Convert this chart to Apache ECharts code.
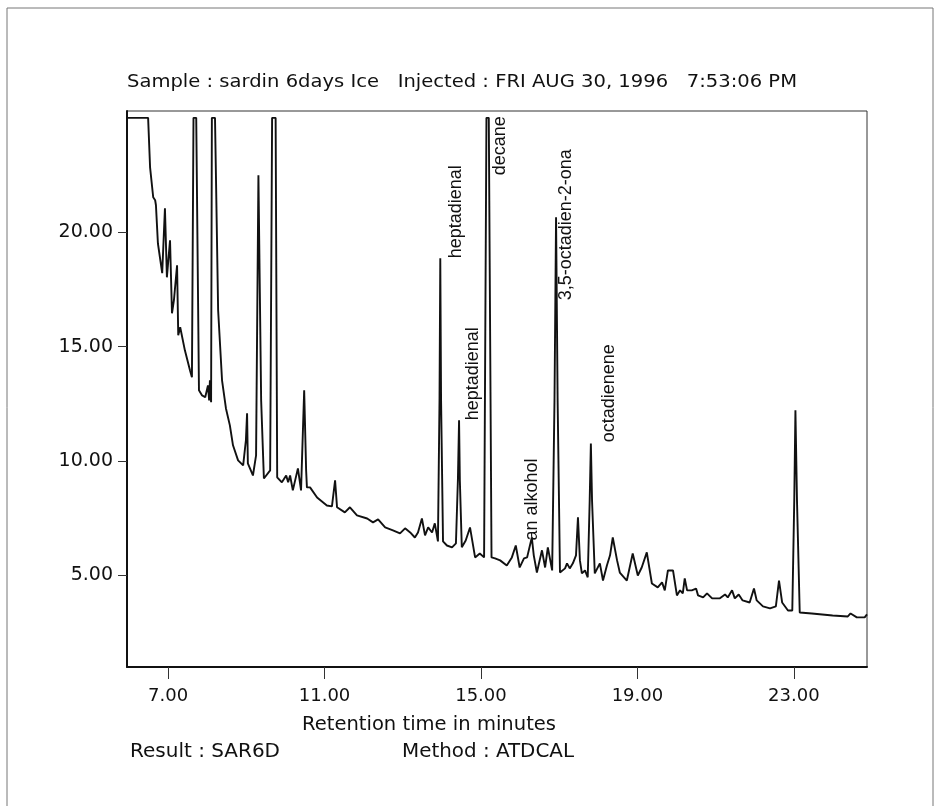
<!DOCTYPE html>
<html>
<head>
<meta charset="utf-8">
<script src="https://cdn.jsdelivr.net/npm/echarts@6/dist/echarts.min.js"></script>
<style>
html,body{margin:0;padding:0;background:#fff;}
#c{width:941px;height:806px;}
</style>
</head>
<body>
<div id="c"></div>
<script>
// Retention time (minutes)
const retentionTimes = [
  5.95, 6.49, 6.54, 6.62, 6.67, 6.69, 6.74, 6.85, 6.92, 6.97,
  7.05, 7.10, 7.15, 7.23, 7.26, 7.31, 7.43, 7.56, 7.61, 7.65,
  7.72, 7.79, 7.87, 7.95, 8.02, 8.05, 8.07, 8.10, 8.12, 8.20,
  8.28, 8.38, 8.48, 8.58, 8.66, 8.79, 8.92, 8.99, 9.02, 9.04,
  9.17, 9.25, 9.31, 9.38, 9.45, 9.61, 9.66, 9.75, 9.79, 9.91,
  10.02, 10.07, 10.12, 10.19, 10.32, 10.40, 10.48, 10.53, 10.55, 10.63,
  10.81, 11.06, 11.19, 11.27, 11.32, 11.52, 11.65, 11.83, 12.09, 12.24,
  12.37, 12.55, 12.75, 12.93, 13.06, 13.19, 13.31, 13.39, 13.49, 13.57,
  13.65, 13.75, 13.82, 13.90, 13.94, 13.96, 13.98, 14.03, 14.13, 14.26,
  14.36, 14.41, 14.44, 14.46, 14.51, 14.61, 14.72, 14.85, 14.97, 15.08,
  15.14, 15.20, 15.27, 15.36, 15.49, 15.66, 15.79, 15.89, 15.99, 16.10,
  16.18, 16.30, 16.35, 16.43, 16.56, 16.64, 16.71, 16.82, 16.88, 16.92,
  16.96, 17.02, 17.15, 17.20, 17.27, 17.35, 17.43, 17.48, 17.53, 17.58,
  17.66, 17.73, 17.78, 17.81, 17.84, 17.91, 18.04, 18.12, 18.22, 18.30,
  18.37, 18.48, 18.55, 18.73, 18.88, 19.01, 19.11, 19.24, 19.37, 19.52,
  19.63, 19.70, 19.78, 19.91, 20.01, 20.09, 20.16, 20.21, 20.27, 20.39,
  20.50, 20.55, 20.68, 20.78, 20.91, 21.11, 21.24, 21.31, 21.42, 21.49,
  21.59, 21.69, 21.87, 21.98, 22.05, 22.21, 22.39, 22.54, 22.62, 22.70,
  22.85, 22.96, 23.01, 23.04, 23.08, 23.15, 23.46, 23.99, 24.38, 24.45,
  24.61, 24.81, 24.87
];
// Detector signal
const signal = [
  25.0, 25.0, 22.84, 21.53, 21.40, 21.18, 19.52, 18.21, 21.05, 18.03,
  19.65, 16.46, 17.03, 18.56, 15.50, 15.85, 14.84, 13.97, 13.66, 25.0,
  25.0, 13.09, 12.87, 12.79, 13.31, 12.65, 13.53, 12.57, 25.0, 25.0,
  16.59, 13.53, 12.30, 11.56, 10.69, 10.03, 9.81, 10.91, 12.09, 9.90,
  9.37, 10.25, 22.49, 12.65, 9.24, 9.59, 25.0, 25.0, 9.29, 9.07,
  9.37, 9.07, 9.37, 8.72, 9.68, 8.72, 13.09, 9.59, 8.85, 8.85,
  8.41, 8.06, 8.02, 9.16, 7.98, 7.76, 7.98, 7.63, 7.49, 7.32,
  7.45, 7.10, 6.97, 6.84, 7.06, 6.88, 6.66, 6.88, 7.49, 6.75,
  7.10, 6.88, 7.28, 6.49, 12.65, 18.86, 12.65, 6.49, 6.31, 6.23,
  6.40, 9.16, 11.78, 9.16, 6.23, 6.53, 7.10, 5.79, 5.96, 5.79,
  25.0, 25.0, 5.79, 5.75, 5.66, 5.44, 5.79, 6.31, 5.35, 5.75,
  5.79, 6.66, 5.88, 5.13, 6.10, 5.35, 6.23, 5.22, 12.65, 20.66,
  12.65, 5.13, 5.31, 5.53, 5.31, 5.53, 5.88, 7.54, 5.66, 5.09,
  5.22, 4.92, 8.28, 10.77, 8.28, 5.09, 5.53, 4.78, 5.44, 5.88,
  6.66, 5.66, 5.13, 4.78, 5.96, 5.00, 5.35, 6.01, 4.65, 4.48,
  4.70, 4.35, 5.22, 5.22, 4.13, 4.35, 4.22, 4.87, 4.35, 4.35,
  4.43, 4.13, 4.04, 4.22, 4.00, 4.00, 4.17, 4.04, 4.35, 4.00,
  4.17, 3.91, 3.82, 4.43, 3.91, 3.65, 3.56, 3.65, 4.78, 3.82,
  3.47, 3.47, 8.28, 12.22, 8.28, 3.38, 3.34, 3.25, 3.21, 3.34,
  3.17, 3.17, 3.30
];
const xTicks = [7, 11, 15, 19, 23];
const yTicks = [5, 10, 15, 20];
// Peak annotations: label, time where text sits, signal level where text starts
const annoNames = ['heptadienal', 'heptadienal', 'decane', '3,5-octadien-2-ona', 'an alkohol', 'octadienene'];
const annoTimes = [14.37, 14.80, 15.49, 17.17, 16.30, 18.27];
const annoLevels = [18.86, 11.78, 22.49, 17.03, 6.53, 10.82];

const FONT = 'DejaVu Sans';
const AFONT = 'Liberation Sans';
const chart = echarts.init(document.getElementById('c'), null, {renderer: 'canvas'});
const lineData = retentionTimes.map((t, i) => [t, signal[i]]);

const option = {
  animation: false,
  backgroundColor: '#fff',
  grid: {left: 127, right: 74, top: 111, bottom: 139, show: true, borderColor: '#333', borderWidth: 1},
  xAxis: {
    type: 'value', min: 5.95, max: 24.87,
    axisLine: {show: true, onZero: false, lineStyle: {color: '#111', width: 2}},
    axisTick: {show: true, inside: false, length: 12, customValues: xTicks, lineStyle: {color: '#333', width: 1}},
    axisLabel: {customValues: xTicks, margin: 20, color: '#111', fontFamily: FONT, fontSize: 18,
      formatter: v => v.toFixed(2)},
    splitLine: {show: false}
  },
  yAxis: {
    type: 'value', min: 1, max: 25.3,
    axisLine: {show: true, onZero: false, lineStyle: {color: '#111', width: 2}},
    axisTick: {show: true, inside: false, length: 9, customValues: yTicks, lineStyle: {color: '#333', width: 1}},
    axisLabel: {customValues: yTicks, margin: 14, color: '#111', fontFamily: FONT, fontSize: 19,
      formatter: v => v.toFixed(2)},
    splitLine: {show: false}
  },
  series: [{
    type: 'line', data: lineData, symbol: 'none', smooth: false,
    lineStyle: {color: '#111', width: 1.9}, clip: true
  }],
  graphic: []
};
chart.setOption(option);

const measureCtx = document.createElement('canvas').getContext('2d');
function fitScale(text, font, width) {
  measureCtx.font = font;
  return width / measureCtx.measureText(text).width;
}
const txt = (x, y, text, font, extra) => Object.assign({
  type: 'text', x: x, y: y,
  style: {text: text, fill: '#111', font: font, textAlign: 'left', textVerticalAlign: 'middle'}
}, extra || {});
const fitTxt = (x0, x1, y, text, font) => txt(x0, y, text, font, {scaleX: fitScale(text, font, x1 - x0)});

const TF = '18px "' + FONT + '"';
const BF = '19px "' + FONT + '"';
const AF = '18px "' + AFONT + '"';
const g = [
  {type: 'rect', shape: {x: 7, y: 8, width: 926, height: 820}, style: {fill: 'none', stroke: '#777', lineWidth: 1}},
  fitTxt(127, 797, 82, 'Sample : sardin 6days Ice   Injected : FRI AUG 30, 1996   7:53:06 PM', TF),
  fitTxt(302, 556, 725, 'Retention time in minutes', BF),
  fitTxt(130, 280, 752, 'Result : SAR6D', BF),
  fitTxt(402, 574, 752, 'Method : ATDCAL', BF)
];
annoNames.forEach((name, i) => {
  const p = chart.convertToPixel({gridIndex: 0}, [annoTimes[i], annoLevels[i]]);
  g.push(txt(p[0], p[1], name, AF, {rotation: Math.PI / 2}));
});
chart.setOption({graphic: g});
</script>
</body>
</html>
